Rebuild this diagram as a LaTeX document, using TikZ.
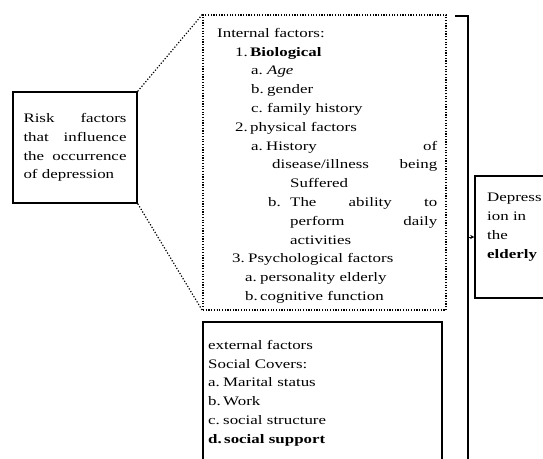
\documentclass[tikz,border=0pt]{standalone}
\usepackage{fontspec}
\setmainfont{Liberation Serif}[FakeStretch=1.3]
\usetikzlibrary{arrows.meta}
\newcommand{\lbl}[3]{\hspace*{#1}\makebox[#2][l]{#3}}

\begin{document}
\begin{tikzpicture}[x=1pt,y=-1pt,
  box/.style={draw,line width=1.5pt,inner sep=0pt},
  dotbox/.style={draw,line width=1.2pt,dash pattern=on 1.2pt off 1.5pt,inner sep=0pt},
  txt/.style={inner sep=0pt,align=left,font=\fontsize{13}{18.8}\selectfont},
  dotline/.style={line width=1.2pt,dash pattern=on 1.2pt off 1.8pt},
  bracket/.style={line width=2pt}]
\useasboundingbox (0,0) rectangle (543,458);
\clip (0,0) rectangle (543,458);
\node[box,txt,text width=103pt,minimum width=124pt,minimum height=111pt] (risk) at (75,147.5) {Risk\hfill factors\\that\hfill influence\\the\hfill occurrence\\of depression};
\node[dotbox,minimum width=243pt,minimum height=295pt] (inner) at (324.5,162.5) {};
\node[box,minimum width=239pt,minimum height=160pt] (ext) at (322.5,402) {};
\node[box,minimum width=90pt,minimum height=122pt] (dep) at (520,237) {};
\node[txt,anchor=north west,text width=220pt] (innertxt) at (217,28) {Internal factors:\\
\lbl{18pt}{15pt}{1.}\textbf{Biological}\\
\lbl{34pt}{16pt}{a.}\textit{Age}\\
\lbl{34pt}{16pt}{b.}gender\\
\lbl{34pt}{16pt}{c.}family history\\
\lbl{18pt}{15pt}{2.}physical factors\\
\lbl{34pt}{15pt}{a.}History\hfill of\\
\hspace*{55pt}disease/illness\hfill being\\
\hspace*{73pt}Suffered\\
\lbl{51pt}{22pt}{b.}The\hfill ability\hfill to\\
\hspace*{73pt}perform\hfill daily\\
\hspace*{73pt}activities\\
\lbl{15pt}{16pt}{3.}Psychological factors\\
\lbl{28pt}{15pt}{a.}personality elderly\\
\lbl{28pt}{15pt}{b.}cognitive function};
\node[txt,anchor=north west,text width=220pt] (exttxt) at (208,340) {external factors\\
Social Covers:\\
\lbl{0pt}{15pt}{a.}Marital status\\
\lbl{0pt}{15pt}{b.}Work\\
\lbl{0pt}{15pt}{c.}social structure\\
\textbf{\lbl{0pt}{16pt}{d.}social support}};
\node[txt,anchor=north west] (deptxt) at (487,193) {Depress\\ion in\\the\\\textbf{elderly}};
\draw[dotline] (risk.north east) -- (inner.north west);
\draw[dotline] (risk.south east) -- (inner.south west);
\coordinate (brtop) at (455,16);
\coordinate (brbot) at (468,470);
\coordinate (brmid) at (468,237);
\draw[bracket] (brtop) -| (brbot);
\draw[line width=1pt,-{Stealth[length=4pt,width=4pt]}] (brmid) -- (dep.west);
\end{tikzpicture}
\end{document}
